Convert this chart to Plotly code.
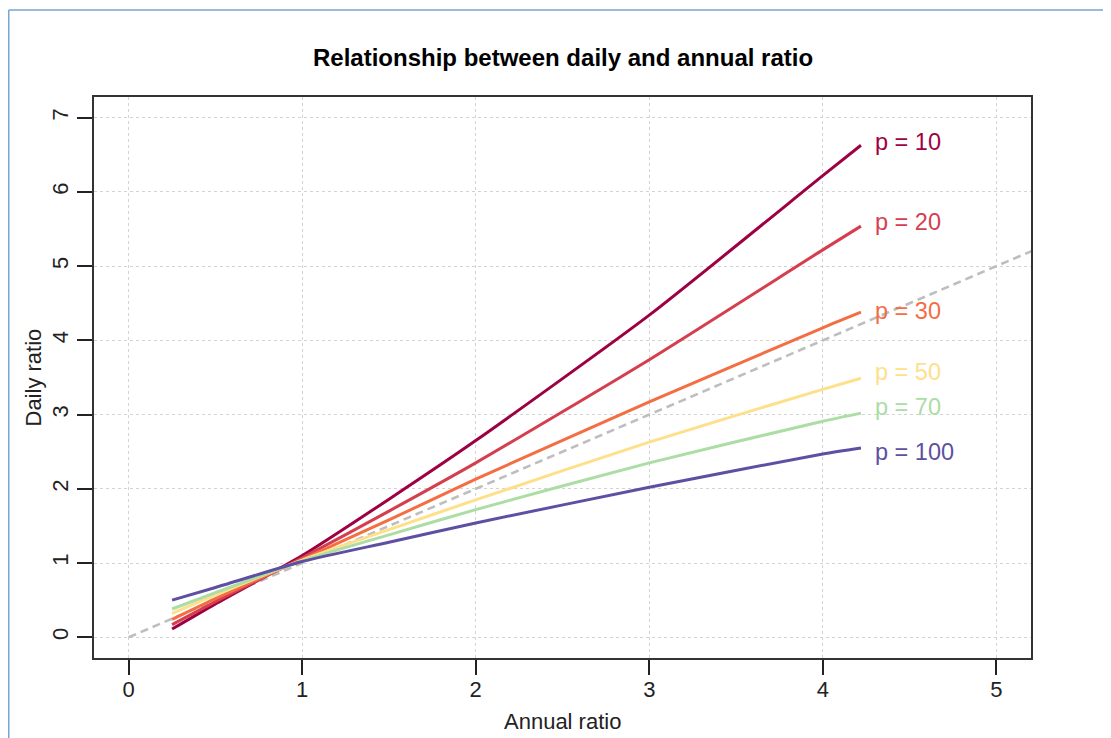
import plotly.graph_objects as go

# ---- data ----
annual_ratio = [0.25, 0.5, 1.0, 1.5, 2.0, 3.0, 4.0, 4.22]
p_labels = ["p = 10", "p = 20", "p = 30", "p = 50", "p = 70", "p = 100"]
daily_p10 = [0.11, 0.45, 1.10, 1.86, 2.65, 4.34, 6.22, 6.63]
daily_p20 = [0.17, 0.48, 1.07, 1.70, 2.35, 3.74, 5.22, 5.54]
daily_p30 = [0.24, 0.52, 1.05, 1.58, 2.13, 3.17, 4.17, 4.38]
daily_p50 = [0.32, 0.57, 1.04, 1.45, 1.85, 2.63, 3.34, 3.49]
daily_p70 = [0.38, 0.60, 1.03, 1.38, 1.72, 2.35, 2.91, 3.02]
daily_p100 = [0.50, 0.67, 1.02, 1.28, 1.54, 2.02, 2.47, 2.55]
identity_x = [0, 6]
identity_y = [0, 6]
x_ticks = [0, 1, 2, 3, 4, 5]
y_ticks = [0, 1, 2, 3, 4, 5, 6, 7]

series = [daily_p10, daily_p20, daily_p30, daily_p50, daily_p70, daily_p100]
colors = ["#9E0142", "#D53E4F", "#F46D43", "#FEE08B", "#ABDDA4", "#5E4FA2"]
label_yshift = [3, 4, 1, 6, 6, -4]

FONT = "Liberation Sans, Arial, sans-serif"

W, H = 1103, 730          # page body has an 8px margin
L, R, T, B = 86, 80, 89, 80
PW, PH = W - L - R, H - T - B

fig = go.Figure()

fig.add_trace(go.Scatter(
    x=identity_x, y=identity_y, mode="lines",
    line=dict(color="#BEBEBE", width=2.6, dash="8px,5px"),
    hoverinfo="skip", showlegend=False))

for vals, col, lab in zip(series, colors, p_labels):
    fig.add_trace(go.Scatter(
        x=annual_ratio, y=vals, mode="lines", name=lab,
        line=dict(color=col, width=3, shape="spline", smoothing=0.6),
        showlegend=False))

annotations = []
for vals, col, lab, ys in zip(series, colors, p_labels, label_yshift):
    annotations.append(dict(
        x=annual_ratio[-1], y=vals[-1], xref="x", yref="y",
        text=lab, showarrow=False, xanchor="left", yanchor="middle",
        xshift=12, yshift=ys, font=dict(family=FONT, size=23.5, color=col)))

annotations += [
    dict(text="<b>Relationship between daily and annual ratio</b>",
         x=0.5, y=1.0713, xref="paper", yref="paper", showarrow=False,
         xanchor="center", yanchor="middle",
         font=dict(family=FONT, size=24, color="#000000")),
    dict(text="Annual ratio", x=0.5, y=-0.114, xref="paper", yref="paper",
         showarrow=False, xanchor="center", yanchor="middle",
         font=dict(family=FONT, size=22, color="#222222")),
    dict(text="Daily ratio", x=-0.0651, y=0.5, xref="paper", yref="paper",
         showarrow=False, xanchor="center", yanchor="middle", textangle=-90,
         font=dict(family=FONT, size=22, color="#222222")),
]

fx = (0.75 - L) / PW
fy = (PH + T - 2) / PH
shapes = [
    dict(type="line", xref="paper", yref="paper",
         x0=fx, x1=fx, y0=fy, y1=(T + PH - H - 5) / PH,
         line=dict(color="#7AA3D6", width=1.5)),
    dict(type="line", xref="paper", yref="paper",
         x0=fx, x1=(W + 5 - L) / PW, y0=fy, y1=fy,
         line=dict(color="#7AA3D6", width=1.5)),
]

axis_common = dict(
    showgrid=True, gridcolor="#D3D3D3", griddash="dot", gridwidth=1,
    zeroline=False, showline=True, linecolor="#333333", linewidth=1.6,
    mirror=True, ticks="outside", ticklen=15, tickwidth=1.6, tickcolor="#222222",
    tickfont=dict(family=FONT, size=22, color="#222222"))

fig.update_layout(
    width=W, height=H,
    margin=dict(l=L, r=R, t=T, b=B),
    paper_bgcolor="white", plot_bgcolor="white",
    annotations=annotations, shapes=shapes,
    xaxis=dict(range=[-0.2, 5.2], tickvals=x_ticks, ticklabelstandoff=-4, **axis_common),
    yaxis=dict(range=[-0.28, 7.28], tickvals=y_ticks, tickangle=-90, **axis_common),
)

fig.write_html("out.html")
